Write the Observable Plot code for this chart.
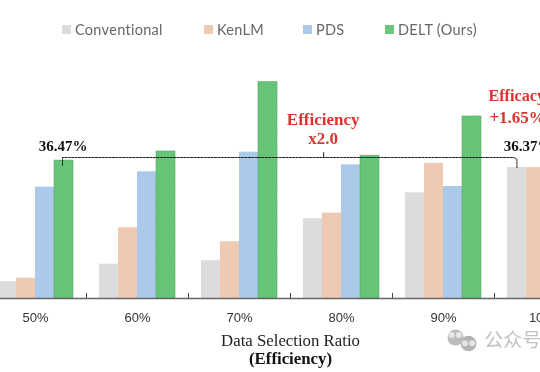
<!DOCTYPE html>
<html><head><meta charset="utf-8">
<script src="https://cdn.jsdelivr.net/npm/d3@7"></script>
<script src="https://cdn.jsdelivr.net/npm/@observablehq/plot@0.6"></script>
<style>
html,body{margin:0;padding:0;background:#fff;overflow:hidden}
#wrap{position:relative;width:540px;height:372px;overflow:hidden;filter:blur(.4px)}
.lg{position:absolute;top:20px;height:18px;display:flex;align-items:center;font:14.5px Lato,Roboto,sans-serif;color:#666;white-space:nowrap;letter-spacing:.3px}
.lg i{display:inline-block;width:9px;height:9px;margin-right:4px}
</style></head><body>
<div id="wrap"><svg width="0" height="0" style="position:absolute"><defs>
<pattern id="hatch" width="2.2" height="2.2" patternUnits="userSpaceOnUse" patternTransform="rotate(45)">
<rect width="2.2" height="2.2" fill="#6ecb7e"/><rect width=".8" height="2.2" fill="#5abb6c"/></pattern></defs></svg></div>
<script>
const ratios = ["50%","60%","70%","80%","90%","100%"];
const methods = ["Conventional","KenLM","PDS","DELT (Ours)"];
const conventional = [34.74,34.99,35.04,35.64,36.01,36.37];
const kenlm = [34.79,35.51,35.31,35.72,36.43,36.37];
const pds = [36.09,36.31,36.59,36.41,36.10,36.37];
const delt = [36.47,36.60,37.59,36.54,37.10,36.90];
const colors = ["#dcdcdc","#eecab2","#abc9e8","url(#hatch)"];
const legendColors = ["#dcdcdc","#eecab2","#abc9e8","#6cc67c"];
const legendLeft = [62,204,303,385];
const series = [conventional,kenlm,pds,delt];
const barShare = 19/102;
const bars = series.flatMap((vals,j)=>vals.map((v,i)=>({i,j,v,
  x1:i+(j-2)*barShare, x2:i+(j-1)*barShare})));
const base = 34.5;
const top_ = 38.757;
const serif = "Liberation Serif, Times New Roman, serif";
const dash = [{x:.265,y:36.4},{x:.265,y:36.514},{x:4.69,y:36.514},{x:4.72,y:36.49},{x:4.72,y:36.37}];
const notch = [{x:2.825,y:36.514},{x:2.825,y:36.585}];
const bubbles = [{x:4.118,y:33.943,r:8,f:"#bdbdbd",s:"none"},{x:4.245,y:33.857,r:9,f:"#b3b3b3",s:"#fff"},
  {x:4.08,y:33.98,r:1.1,f:"#e6e6e6",s:"none"},{x:4.15,y:33.98,r:1.1,f:"#e6e6e6",s:"none"},{x:4.21,y:33.86,r:1.1,f:"#e6e6e6",s:"none"},{x:4.28,y:33.86,r:1.1,f:"#e6e6e6",s:"none"}];

const plot = Plot.plot({
  width:540,height:372,marginTop:0,marginBottom:74,marginLeft:0,marginRight:0,
  style:{background:"transparent",overflow:"hidden"},
  x:{domain:[-35/102,505/102],axis:null},
  y:{domain:[base,top_],axis:null},
  marks:[
    Plot.rectY(bars,{x1:"x1",x2:"x2",y1:()=>base,y2:"v",fill:d=>colors[d.j],
      stroke:d=>d.j===3?"#55a866":"none",strokeWidth:.6,inset:0}),
    Plot.ruleY([base],{stroke:"#666",strokeWidth:1.5}),
    Plot.ruleX([.5,1.5,2.5,3.5,4.5],{y1:base,y2:base+5/70,stroke:"#444",strokeWidth:1}),
    Plot.axisX({ticks:d3.range(6),tickSize:0,tickPadding:14,tickFormat:i=>ratios[i],anchor:"bottom",
      fontSize:13,fill:"#333",fontFamily:"Liberation Sans, Arial, sans-serif",label:null}),
    Plot.line(dash,{x:"x",y:"y",stroke:"#222",strokeWidth:1,strokeDasharray:"2.2,1.2",curve:"linear"}),
    Plot.line(notch,{x:"x",y:"y",stroke:"#222",strokeWidth:1}),
    Plot.text(["36.47%"],{x:.27,y:36.67,fontFamily:serif,fontWeight:"bold",fontSize:15,fill:"#111"}),
    Plot.text(["36.37%"],{x:4.59,y:36.68,textAnchor:"start",fontFamily:serif,fontWeight:"bold",fontSize:15,fill:"#111"}),
    Plot.text(["Efficiency"],{x:2.82,y:37.055,fontFamily:serif,fontWeight:"bold",fontSize:17,fill:"#d8352c"}),
    Plot.text(["x2.0"],{x:2.82,y:36.79,fontFamily:serif,fontWeight:"bold",fontSize:17,fill:"#d8352c"}),
    Plot.text(["Efficacy"],{x:4.44,y:37.4,textAnchor:"start",fontFamily:serif,fontWeight:"bold",fontSize:16.2,fill:"#d8352c"}),
    Plot.text(["+1.65%"],{x:4.45,y:37.09,textAnchor:"start",fontFamily:serif,fontWeight:"bold",fontSize:17,fill:"#d8352c"}),
    Plot.text(["Data Selection Ratio"],{x:2.5,y:base,dy:42,fontFamily:serif,fontSize:16.8,fill:"#222"}),
    Plot.text(["(Efficiency)"],{x:2.5,y:base,dy:60,fontFamily:serif,fontWeight:"bold",fontSize:16.8,fill:"#111"}),
    Plot.dot(bubbles,{x:"x",y:"y",r:"r",fill:"f",stroke:"s"}),
    Plot.text(["公众号"],{x:4.4,y:base,dy:42,textAnchor:"start",fontFamily:"Noto Sans CJK SC",fontSize:19,fill:"#c2c2c2"})
  ]
});
const wrap=document.getElementById("wrap");
wrap.appendChild(plot);
methods.forEach((m,k)=>{
  const el=document.createElement("div");el.className="lg";el.style.left=legendLeft[k]+"px";
  el.innerHTML=`<i style="background:${legendColors[k]}"></i>${m}`;wrap.appendChild(el);
});
</script></body></html>
